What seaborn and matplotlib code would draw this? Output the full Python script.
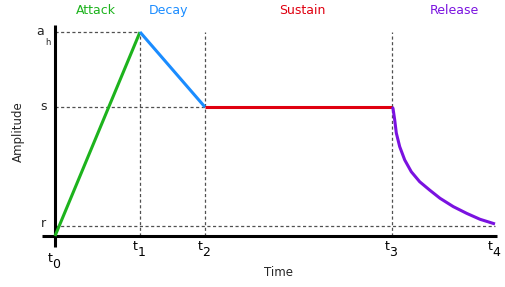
import matplotlib
matplotlib.use("Agg")
import matplotlib.pyplot as plt
import seaborn as sns
import pandas as pd

# ADSR envelope values (time in arbitrary units, amplitude normalised to a_h = 1)
t_ticks = [0.0, 0.85, 1.5, 3.37, 4.4]          # t0 .. t4
t_names = ["0", "1", "2", "3", "4"]
level_peak = 1.0                               # a_h
level_sustain = 0.632                          # s
level_release = 0.049                          # r

# release curve
release_t = [3.37, 3.38, 3.397, 3.413, 3.447, 3.497, 3.563, 3.647,
             3.747, 3.85, 3.983, 4.117, 4.25, 4.40]
release_a = [0.632, 0.626, 0.569, 0.505, 0.438, 0.373, 0.315, 0.266,
             0.225, 0.185, 0.144, 0.111, 0.082, 0.059]

phases = ["Attack", "Decay", "Sustain", "Release"]
phase_colors = ["#1db31d", "#1a8cff", "#e00010", "#7a12e0"]
phase_label_t = [0.405, 1.14, 2.47, 3.99]

sns.set_theme(style="white")
plt.rcParams["font.family"] = ["DejaVu Sans"]

fig = plt.figure(figsize=(5.05, 2.87), dpi=100)
ax = fig.add_axes([0, 0, 1, 1])
ax.set_xlim(-0.55, 4.5)
ax.set_ylim(-0.25, 1.157)
ax.axis("off")

t0, t1, t2, t3, t4 = t_ticks

# dashed guides
guide = dict(color="#505050", lw=0.9, ls=(0, (2.5, 2)), zorder=1)
ax.plot([t0, t1], [level_peak, level_peak], **guide)
ax.plot([t0, t2], [level_sustain, level_sustain], **guide)
ax.plot([t0, t4], [level_release, level_release], **guide)
for t in [t1, t2, t3]:
    ax.plot([t, t], [0, level_peak], **guide)

# envelope segments
segments = [
    pd.DataFrame({"t": [t0, t1], "a": [0, level_peak]}),
    pd.DataFrame({"t": [t1, t2], "a": [level_peak, level_sustain]}),
    pd.DataFrame({"t": [t2, t3], "a": [level_sustain, level_sustain]}),
    pd.DataFrame({"t": release_t, "a": release_a}),
]
for seg, col in zip(segments, phase_colors):
    sns.lineplot(data=seg, x="t", y="a", ax=ax, color=col, lw=2.2,
                 sort=False, zorder=3, solid_capstyle="butt",
                 solid_joinstyle="round")

# axis lines
ax.plot([-0.13, 4.42], [0, 0], color="black", lw=2.2, zorder=2, solid_capstyle="butt")
ax.plot([0, 0], [-0.054, 1.034], color="black", lw=2.2, zorder=2, solid_capstyle="butt")

# phase labels
for name, col, xt in zip(phases, phase_colors, phase_label_t):
    ax.text(xt, 1.105, name, color=col, fontsize=9, ha="center", va="center")

# time tick labels (t with subscript)
for i, (t, n) in enumerate(zip(t_ticks, t_names)):
    y = -0.11 if i == 0 else -0.05
    ax.text(t - 0.045, y, "t", fontsize=9, ha="center", va="center", color="black")
    ax.text(t + 0.015, y - 0.03, n, fontsize=9, ha="center", va="center", color="black")

# amplitude tick labels
ax.text(-0.15, 1.0 + 0.005, "a", fontsize=9, ha="center", va="center")
ax.text(-0.07, 0.95, "h", fontsize=6, ha="center", va="center")
ax.text(-0.115, level_sustain + 0.005, "s", fontsize=9, ha="center", va="center")
ax.text(-0.115, level_release + 0.01, "r", fontsize=9, ha="center", va="center")

# axis titles
ax.text(-0.37, 0.51, "Amplitude", fontsize=8.5, rotation=90, ha="center", va="center")
ax.text(2.23, -0.177, "Time", fontsize=8.5, ha="center", va="center")

fig.savefig("out.png", dpi=100)
